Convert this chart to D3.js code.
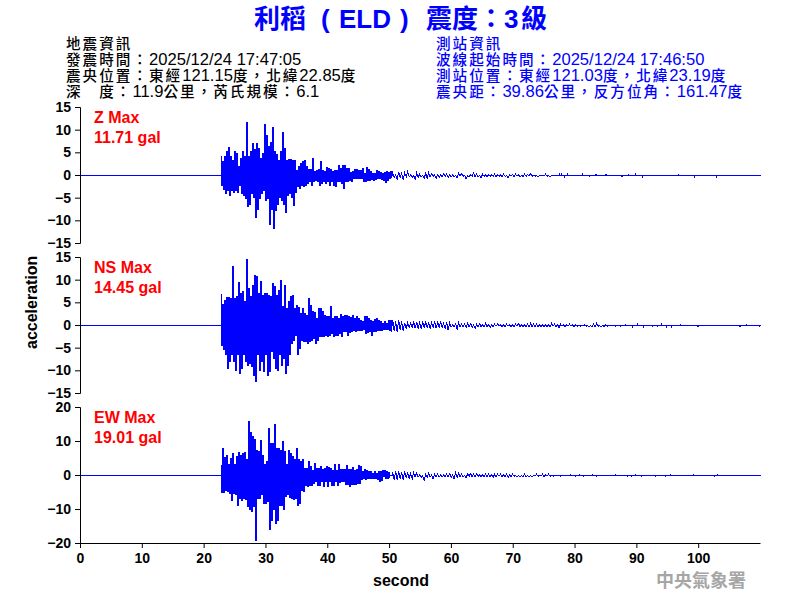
<!DOCTYPE html>
<html>
<head>
<meta charset="utf-8">
<script src="https://cdn.jsdelivr.net/npm/d3@7"></script>
<style>
  html, body { margin: 0; padding: 0; background: #fff; }
  svg { display: block; }
  text { font-family: "Liberation Sans", "Noto Sans CJK TC", sans-serif; }
  .tick text { font-size: 14px; font-weight: bold; fill: #000; }
  .info { font-size: 16.6px; font-weight: 500; }
  .info .cjk { font-size: 14.6px; letter-spacing: 2px; }
</style>
</head>
<body>
<div id="vis"></div>
<script>
const FRAME_WIDTH = 800;
const FRAME_HEIGHT = 600;

// full width colon and comma, as in the reference
const CO = '\uFF1A', CM = '\uFF0C';
const infoLeft = ['地震資訊', '發震時間' + CO + '2025/12/24 17:47:05', '震央位置' + CO + '東經121.15度' + CM + '北緯22.85度', '深\u3000度' + CO + '11.9公里' + CM + '芮氏規模' + CO + '6.1'];
const infoRight = ['測站資訊', '波線起始時間' + CO + '2025/12/24 17:46:50', '測站位置' + CO + '東經121.03度' + CM + '北緯23.19度', '震央距' + CO + '39.86公里' + CM + '反方位角' + CO + '161.47度'];

const zTicks = [-15, -10, -5, 0, 5, 10, 15];
const nsTicks = [-15, -10, -5, 0, 5, 10, 15];
const ewTicks = [-20, -10, 0, 10, 20];
const secondTicks = [0, 10, 20, 30, 40, 50, 60, 70, 80, 90, 100];

// sampling of the arrays below, seconds
const HEAD_START = 22.65, HEAD_STEP = 0.324;
const TAIL_START = 50.5, TAIL_STEP = 0.485;

const zHeadUp = [4.3,3.1,4.2,5.3,6.1,4.2,3.4,5.3,4.8,1.9,3.8,5.3,4.2,11.6,4.2,5.3,7.0,5.7,7.0,6.0,3.8,4.9,11.3,8.8,6.4,7.2,10.5,5.3,4.6,3.4,5.3,9.4,6.0,3.4,3.6,3.6,3.4,3.4,1.2,1.9,2.7,3.1,3.4,1.9,1.3,1.3,3.7,.8,1.2,1.3,3.1,1.2,.8,1.8,1.6,1.3,.8,1.0,1.2,2.3,1.6,2.1,2.3,1.6,1.6,.6,.8,1.3,1.3,1.2,1.2,1.6,.4,1.8,1.3,.8,.4,.4,1,.8,.6,.4,.6,.8,.6,.8];
const zHeadDown = [-2.2,-3.1,-4,-3.3,-4.4,-3.3,-3.7,-3.3,-3.7,-2.2,-4,-4.4,-5.1,-6.8,-6.3,-4,-4.8,-9.3,-7.4,-5.1,-4,-3.3,-5.5,-5.1,-10.7,-7.4,-11.71,-7.8,-6.3,-4.8,-5.5,-6.3,-8.1,-4.4,-4,-4.8,-6.6,-3.7,-2.5,-2.9,-2.2,-2.5,-2.2,-1.8,-1.4,-2.2,-1.4,-1,-1.4,-2.2,-1.8,-1.4,-1.8,-1.4,-2.2,-1.4,-2.2,-2.5,-1.4,-1.4,-1.8,-2.9,-1.4,-1.4,-1,-1.4,-.7,-.7,-.7,-.7,-.7,-1.4,-1.4,-1,-1,-.9,-1.2,-.9,-.7,-.7,-.9,-1,-1.6,-1,-.7,-.5];
const zTailUp = [.6,.15,.75,.45,.6,.9,.15,0,.6,.3,0,.45,.6,.45,.15,.15,.15,.45,.3,.15,.15,0,.45,.45,0,0,.15,.6,.3,0,.3,.15,.15,.15,.3,.15,.15,.3,0,.2,.2,.3,.15,0,.3,.2,.45,0,0,0,0,.3,0,0];
const zTailDown = [-.5,-.9,-.45,-.9,-.3,-.3,-.45,-.9,-.45,-.3,-.6,-.6,-.3,-.15,-.6,-.45,-.3,-.15,-.45,-.3,-.3,-.45,-.1,-.15,-.75,-.3,-.2,-.3,-.3,-.45,-.15,-.3,-.2,-.2,-.3,-.2,-.3,-.2,-.45,-.15,-.3,-.15,-.3,-.2,-.2,-.15,-.15,-.15,-.3,0,-.15,-.15,-.3,0];
const zBlipT = [77.5,77.8,78.3,78.8,81.2,82.4,83.4,85,87.6,88.7,89.8,90.9,96.7,99.3,102.9];
const zBlipV = [.25,.25,-.25,.25,.25,-.25,.25,.25,-.25,.25,.25,-.25,.25,-.25,-.25];

const nsHeadUp = [6.8,4.6,5.6,6.2,6.1,6.0,13.1,6.0,6.3,9.5,7.1,7.4,5.4,14.45,8.2,6.3,8.9,11.0,10.7,7.1,9.6,6.7,7.1,7.1,6.7,6.3,9.3,8.5,6.7,7.8,10.0,4.1,8.9,3.8,5.2,6.3,6.7,3.8,4.5,3.9,2.6,3.8,2.6,2.3,6.0,4.5,3.0,2.9,1.5,3.8,3.8,3.0,2.3,1.9,1.9,4.1,1.5,1.9,1.9,1.5,2.4,1.9,2.3,2.3,1.9,1.7,2.1,1.5,1.9,1.5,1.2,.8,1.9,1.9,1.5,1.2,.8,1.4,1.5,1.2,.8,.4,.8,.4,1.2,1.2];
const nsHeadDown = [-4.5,-5.4,-6.5,-9.5,-8,-6.5,-8,-9.9,-6.5,-10.6,-9.5,-6.5,-8,-8.8,-8.4,-9.1,-11,-12.3,-6.5,-9.9,-8,-10.2,-6.5,-11,-10.2,-5.8,-7.3,-9.5,-9.9,-6.5,-8.8,-7.3,-10.6,-8.8,-6.5,-4,-3.2,-2.1,-6.5,-5.1,-3.2,-3.6,-3.6,-4,-3.6,-3.2,-2.9,-4,-3.2,-2.5,-2.5,-2.5,-2.1,-2.5,-2.1,-1.8,-2.5,-2.1,-2.1,-1.8,-2.5,-1.4,-1.4,-2.1,-1.5,-1.4,-1,-1.4,-1,-1,-1,-.8,-1.8,-1.5,-1.4,-2.1,-1.4,-1.4,-1,-1,-1.2,-.8,-.8,-.8,-1,-1.4];
const nsTailUp = [1.2,.9,1.2,.9,.6,.6,.6,.75,.75,.6,.75,.75,.6,.6,.75,.75,.75,.45,.75,.6,.15,.3,.6,.3,.3,.45,.45,.15,.3,.45,.15,.45,.15,.15,.3,.3,.15,.15,.3,.15,.15,.3,.45,.15,.15,.3,.45,.3,.3,.15,.2,.15,.15,.45,.3,.15,.3,.15,.15,.3,.15,.2,0,0,.15,0,0,.3,.45,0,0,.15];
const nsTailDown = [-1.2,-1.35,-.9,-1.2,-.75,-.45,-.45,-.6,-.6,-.6,-.45,-.45,-.75,-.45,-.6,-.45,-.45,-.6,-1.05,-.3,-.3,-.75,-.3,-.3,-.45,-.3,-.45,-.6,-.3,-.3,-.3,-.3,-.45,-.3,-.15,-.15,-.3,-.3,-.15,-.3,-.3,-.15,-.3,-.3,-.2,-.3,-.3,-.3,-.3,-.3,-.3,-.3,-.3,-.15,-.3,-.45,-.15,-.3,-.15,-.15,-.3,-.15,-.15,-.15,-.15,-.3,-.3,-.3,-.15,-.3,-.2,-.15];
const nsBlipT = [86.6,87.4,88.2,89.3,90.1,91.1,92.5,93.3,94,94.8,95.6,97.1,99.9,106.7,107.8,109.9];
const nsBlipV = [-.25,-.25,.25,-.25,.25,-.25,-.25,-.25,.25,-.25,-.25,.25,-.25,-.25,.25,-.25];

const ewHeadUp = [2.8,8,5.3,6,3.1,5,6.5,3.1,5.5,6.7,6,6.5,6.7,4.6,16,12.6,11.6,10.6,7.5,7,10.4,6,3.1,4.1,13.9,9.5,9.5,14.9,8,8,7.5,10,7,3.1,7.5,6.5,5.5,4.6,8,4.6,4.1,4.6,2.1,2.1,4.1,2.6,1.6,3.6,2.1,2.1,2.6,1.8,2.1,2.6,2.4,2.1,1.6,3.1,1.4,3.1,1.8,1.8,1.8,2.8,1.8,1.8,2.4,1.6,1.8,2.8,2.6,1.1,1.8,1.6,1.2,1.2,.6,1.1,.6,1.1,1.1,1.6,1.4,1.1,1];
const ewHeadDown = [-5,-5,-4.3,-4.8,-5.2,-7.4,-5.2,-5.7,-8.7,-6.7,-7.4,-6.7,-7.2,-9.2,-10.1,-10.6,-9.2,-19.01,-6.7,-6.7,-5.7,-8.2,-8.2,-7.7,-16,-13.1,-10.1,-14.1,-13.1,-8.7,-8.7,-10.1,-6.2,-5.7,-6.4,-6.7,-7.2,-6.7,-8.7,-8.2,-4.3,-4.8,-2.8,-3.3,-2.8,-2.8,-2.3,-1.8,-2.8,-2.8,-1.8,-3.3,-1.8,-3.3,-1.8,-2.8,-2.8,-1.8,-2.8,-2.1,-1.8,-1.8,-2.5,-2.5,-3.1,-2.5,-2.5,-2.5,-2.3,-2.3,-1.3,-.8,-1.3,-.8,-.8,-.8,-.8,-.8,-1.3,-1.8,-1.5,-.3,-.8,-.8,-.8];
const ewTailUp = [1,1.2,1.2,1,1.2,.8,.6,.8,.8,.2,0,.4,.6,.2,.4,.4,.2,.2,.4,.6,.2,.8,.6,.4,0,.4,.6,.4,.4,.2,.2,.4,.4,.2,.4,.4,.4,.2,.4,.2,.4,0,0,0,.4,0,0,0,.4,0,.4,.2,.4];
const ewTailDown = [-1.2,-1.4,-1,-1.2,-.6,-.8,-1,-.4,-.4,-.6,-1.4,-.6,-.4,-1,-.4,-.4,-.4,-.4,-.4,-.6,-1,-.6,-.4,-.4,-.6,-.2,-.4,-.4,-.2,-.4,-.4,-.4,-.4,-.6,-.4,-.2,-.4,-.4,-.6,-.4,-.2,-.4,-.4,-.4,-.4,-.4,-.4,-.2,-.2,-.2,-.4,-.2,-.2];
const ewBlipT = [76.5,77.6,79.3,80.1,80.8,81.4,82.8,83.4,84.2,86.6,88.5,89.1,89.8,90.7,93,94.7,95.5,99.2,100.7,102.5,103];
const ewBlipV = [-.25,-.25,.25,-.25,.25,-.25,.3,-.25,.25,.3,-.25,-.25,.3,-.25,-.25,-.3,.25,.25,.25,-.25,.3];

const FRAME = d3.select('#vis')
  .append('svg')
    .attr('width', FRAME_WIDTH)
    .attr('height', FRAME_HEIGHT);

const X_SCALE = d3.scaleLinear().domain([0, 110]).range([80, 760]);

// strong part: stepped so the columns stay solid
function buildHead(headUp, headDown) {
  const pts = [];
  headUp.forEach((v, i) => {
    const t = HEAD_START + i * HEAD_STEP;
    pts.push([t, v]);
    pts.push([t + HEAD_STEP / 2, headDown[i]]);
  });
  return pts;
}

// flat start, the weak coda and the small blips after it, as a plain line
function buildRest(tailUp, tailDown, blipT, blipV) {
  const pts = [[0, 0], [HEAD_START, 0]];
  pts.push([TAIL_START - 0.1, 0]);
  tailUp.forEach((v, i) => {
    const t = TAIL_START + i * TAIL_STEP;
    pts.push([t, v]);
    pts.push([t + TAIL_STEP / 2, tailDown[i]]);
  });
  pts.push([TAIL_START + tailUp.length * TAIL_STEP, 0]);
  blipT.forEach((t, i) => {
    pts.push([t - 0.08, 0]);
    pts.push([t, blipV[i]]);
    pts.push([t + 0.08, 0]);
  });
  pts.push([110, 0]);
  return pts;
}

function drawPanel(yTicks, rangeBottom, rangeTop, headPts, restPts, label, maxText) {
  const yMax = d3.max(yTicks);
  const Y_SCALE = d3.scaleLinear().domain([-yMax, yMax]).range([rangeBottom, rangeTop]);

  const restLine = d3.line().x(d => X_SCALE(d[0])).y(d => Y_SCALE(d[1]));
  const headLine = d3.line().x(d => X_SCALE(d[0])).y(d => Y_SCALE(d[1])).curve(d3.curveStepAfter);

  [restLine(restPts), headLine(headPts)].forEach(d => {
    FRAME.append('path')
      .attr('d', d)
      .attr('transform', 'translate(0.5,0.5)')
      .attr('fill', 'none')
      .attr('stroke', '#0000ff')
      .attr('stroke-width', 1)
      .attr('shape-rendering', 'crispEdges');
  });

  FRAME.append('g')
    .attr('transform', 'translate(80,0)')
    .call(d3.axisLeft(Y_SCALE).tickValues(yTicks).tickFormat(d3.format('d')).tickSize(5).tickPadding(4));

  FRAME.append('text').attr('x', 94).attr('y', rangeTop + 16)
    .attr('fill', '#ff0000').attr('font-size', 16).attr('font-weight', 'bold').text(label);
  FRAME.append('text').attr('x', 94).attr('y', rangeTop + 36)
    .attr('fill', '#ff0000').attr('font-size', 16).attr('font-weight', 'bold').text(maxText);
}

drawPanel(zTicks, 243, 107, buildHead(zHeadUp, zHeadDown), buildRest(zTailUp, zTailDown, zBlipT, zBlipV), 'Z Max', '11.71 gal');
drawPanel(nsTicks, 393, 257, buildHead(nsHeadUp, nsHeadDown), buildRest(nsTailUp, nsTailDown, nsBlipT, nsBlipV), 'NS Max', '14.45 gal');
drawPanel(ewTicks, 543, 407, buildHead(ewHeadUp, ewHeadDown), buildRest(ewTailUp, ewTailDown, ewBlipT, ewBlipV), 'EW Max', '19.01 gal');

FRAME.append('g')
  .attr('transform', 'translate(0,543)')
  .call(d3.axisBottom(X_SCALE).tickValues(secondTicks).tickSize(5).tickSizeOuter(0).tickPadding(5));

// title
const TITLE = FRAME.append('text').attr('y', 28).attr('font-size', 26).attr('font-weight', 'bold').attr('fill', '#0000ff');
TITLE.append('tspan').attr('x', 254).text('利稻');
TITLE.append('tspan').attr('x', 321).text('(');
TITLE.append('tspan').attr('x', 339).text('ELD');
TITLE.append('tspan').attr('x', 400).text(')');
TITLE.append('tspan').attr('x', 426).text('震度');
TITLE.append('tspan').attr('x', 478).text(CO);
TITLE.append('tspan').attr('x', 504).text('3');
TITLE.append('tspan').attr('x', 521).text('級');

// info blocks, the CJK runs are set a bit smaller so the tight lines don't touch
function addInfoLine(str, x, y, color) {
  const line = FRAME.append('text').attr('class', 'info').attr('x', x).attr('y', y).attr('fill', color);
  str.match(/[\x00-\x7F]+|[^\x00-\x7F]+/g).forEach(run => {
    line.append('tspan')
      .attr('class', /[\x00-\x7F]/.test(run) ? 'latin' : 'cjk')
      .text(run);
  });
}
infoLeft.forEach((t, i) => addInfoLine(t, 66, 49 + i * 16, '#000'));
infoRight.forEach((t, i) => addInfoLine(t, 436, 49 + i * 16, '#0000ff'));

FRAME.append('text')
  .attr('transform', 'translate(37,349) rotate(-90)')
  .attr('font-size', 16).attr('font-weight', 'bold').text('acceleration');

FRAME.append('text').attr('x', 373).attr('y', 586)
  .attr('font-size', 16).attr('font-weight', 'bold').text('second');

FRAME.append('text').attr('x', 656).attr('y', 587)
  .attr('font-size', 18).attr('font-weight', 'bold').attr('fill', '#a6a6a6').text('中央氣象署');
</script>
</body>
</html>
